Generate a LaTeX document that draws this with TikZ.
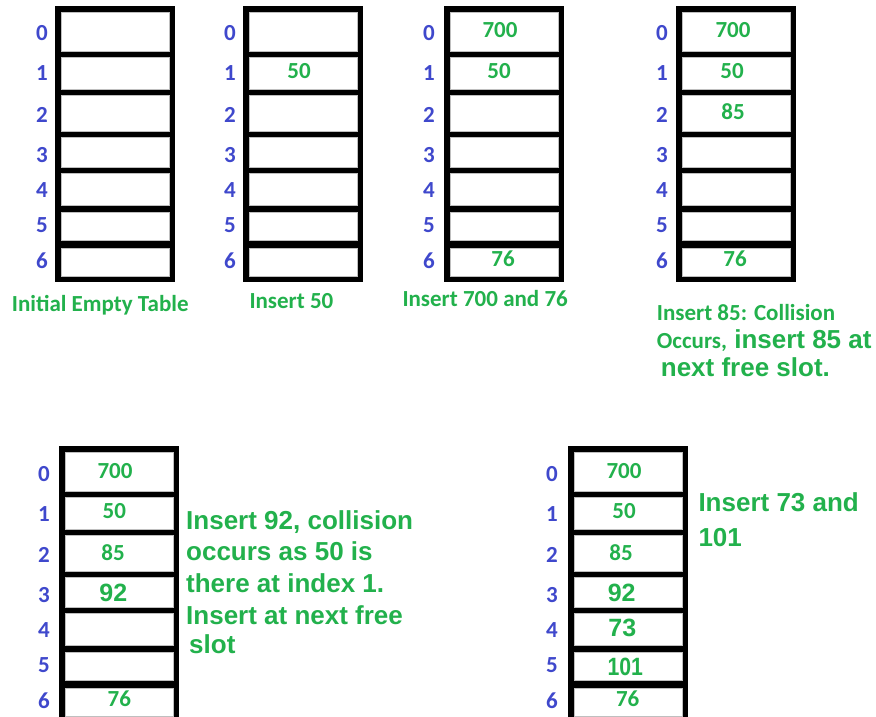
\documentclass[tikz,border=0pt]{standalone}
\usepackage{fontspec}
\newfontfamily\calfont{Carlito}
\newfontfamily\arialfont{Liberation Sans}
\definecolor{tgreen}{RGB}{34,177,76}
\definecolor{tblue}{RGB}{63,72,204}
\tikzset{
  x=1pt, y=-1pt,
  cell/.style={fill=white, draw=black!25, line width=0.4pt, inner sep=0pt, minimum width=108pt},
  idx/.style={text=tblue, font=\calfont\bfseries\fontsize{23}{23}\selectfont, inner sep=0pt, anchor=base},
  val/.style={text=tgreen, font=\calfont\bfseries\fontsize{23}{23}\selectfont, inner sep=0pt, anchor=base},
  bigval/.style={text=tgreen, font=\arialfont\bfseries\fontsize{25}{25}\selectfont, inner sep=0pt, anchor=base},
  caption/.style={text=tgreen, font=\calfont\bfseries\fontsize{23}{23}\selectfont, inner sep=0pt, anchor=base west},
  note/.style={text=tgreen, font=\arialfont\bfseries\fontsize{26}{26}\selectfont, inner sep=0pt, anchor=base west},
}
% #1 name, #2 outer left x, #3 y offset, #4 label x
\newcommand\hashtab[4]{%
  \fill[black] (#2,6+#3) rectangle (#2+120,282+#3);
  \foreach \i/\t/\b/\lb in {0/12/51/41,1/57/89/81,2/95/131/122,3/137/167/162,4/173/205/197,5/212/240/232,6/248/276/268}{
    \node[cell, minimum height={(\b-\t)*1pt}] (#1c\i) at (#2+60, {#3+(\t+\b)/2}) {};
    \node[idx] (#1i\i) at (#4, {#3+\lb}) {\i};
  }%
}
\begin{document}
\begin{tikzpicture}
\useasboundingbox (0,0) rectangle (876,717);
\clip (0,0) rectangle (876,717);
\fill[white] (0,0) rectangle (876,717);

% top row of tables
\hashtab{a}{55}{0}{42}
\hashtab{b}{243}{0}{230}
\hashtab{c}{444}{0}{429}
\hashtab{d}{676}{0}{662}
% bottom row of tables
\hashtab{e}{59}{440}{44}
\hashtab{f}{568}{440}{552}

% values, table b
\node[val] (vb1) at (299,78.3) {50};
% values, table c
\node[val] (vc0) at (500,37.3) {700};
\node[val] (vc1) at (499,78.3) {50};
\node[val] (vc6) at (503,266.7) {76};
% values, table d
\node[val] (vd0) at (733,37.3) {700};
\node[val] (vd1) at (732,78.3) {50};
\node[val] (vd2) at (733,120) {85};
\node[val] (vd6) at (735,266.7) {76};
% values, table e
\node[val] (ve0) at (115,478.3) {700};
\node[val] (ve1) at (114.3,518.3) {50};
\node[val] (ve2) at (113,560) {85};
\node[bigval] (ve3) at (113.3,601.7) {92};
\node[val] (ve6) at (119.3,706.7) {76};
% values, table f
\node[val] (vf0) at (624,478.3) {700};
\node[val] (vf1) at (624,518.3) {50};
\node[val] (vf2) at (621,560) {85};
\node[bigval] (vf3) at (621.7,601.7) {92};
\node[bigval] (vf4) at (622.3,636.7) {73};
\node[bigval, xscale=0.85] (vf5) at (625.3,675) {101};
\node[val] (vf6) at (627.7,706.7) {76};

% captions
\node[caption] (capa) at (11.7,311.7) {Initial Empty Table};
\node[caption] (capb) at (249.3,308.3) {Insert 50};
\node[caption] (capc) at (402.3,306.7) {Insert 700 and 76};
\node[caption] (capd1) at (656.7,320) {Insert 85: Collision};
\node[caption] (capd2) at (656.7,348) {Occurs,{\arialfont\fontsize{26}{26}\selectfont{} insert 85 at}};
\node[note] (capd3) at (660.7,376.7) {next free slot.};

% note for table e
\node[note] (ne1) at (186,529) {Insert 92, collision};
\node[note] (ne2) at (186,560.7) {occurs as 50 is};
\node[note] (ne3) at (186,592.7) {there at index 1.};
\node[note] (ne4) at (186,624) {Insert at next free};
\node[note] (ne5) at (189,653) {slot};

% note for table f
\node[note] (nf1) at (698.3,511.7) {Insert 73 and};
\node[note] (nf2) at (698.3,546) {101};
\end{tikzpicture}
\end{document}
